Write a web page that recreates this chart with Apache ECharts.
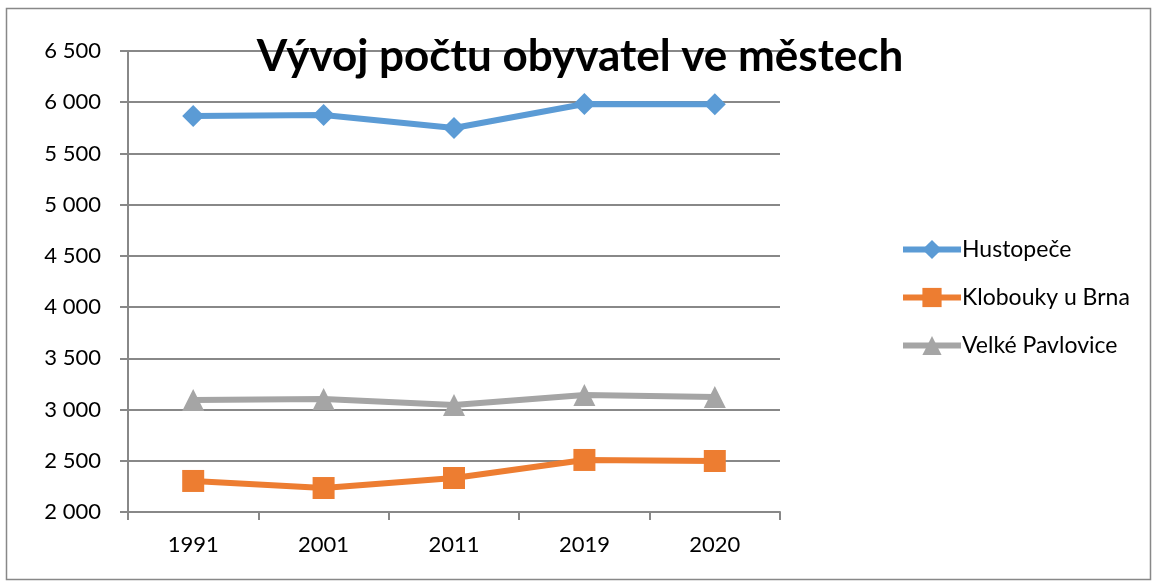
<!DOCTYPE html>
<html><head><meta charset="utf-8">
<script src="https://cdn.jsdelivr.net/npm/echarts@6/dist/echarts.min.js"></script>
<style>html,body{margin:0;padding:0;background:#fff}#c{width:1160px;height:585px}</style>
</head><body><div id="c"></div>
<script>
const categories = ['1991', '2001', '2011', '2019', '2020'];
const hustopece = [5866, 5876, 5749, 5982, 5980];
const klobouky = [2303, 2234, 2332, 2508, 2498];
const velkePavlovice = [3093, 3103, 3045, 3142, 3122];
const seriesNames = ['Hustopeče', 'Klobouky u Brna', 'Velké Pavlovice'];
const titleText = 'Vývoj počtu obyvatel ve městech';

const FONT = 'Lato, "Open Sans", sans-serif';
const chart = echarts.init(document.getElementById('c'), null, {renderer: 'canvas'});
function fmt(v) { return String(v).replace(/\B(?=(\d{3})+(?!\d))/g, ' '); }
function mk(name, data, color, symbol, size) {
  return {
    name, type: 'line', data, symbol, symbolSize: size,
    lineStyle: {color, width: 6}, itemStyle: {color},
    emphasis: {disabled: true}, animation: false
  };
}
chart.setOption({
  animation: false,
  title: {
    text: titleText, left: 'center', top: 30,
    textStyle: {fontFamily: FONT, fontWeight: 'bold', fontSize: 44, color: '#000'}
  },
  graphic: [{type: 'rect', shape: {x: 6.5, y: 8.5, width: 1144, height: 571},
    style: {fill: 'none', stroke: '#888', lineWidth: 1.5}, silent: true, z: -1}],
  grid: {left: 128, right: 380, top: 51, bottom: 73, containLabel: false},
  legend: {
    orient: 'vertical', left: 895, top: 233, itemGap: 25,
    itemWidth: 58, itemHeight: 24,
    lineStyle: {width: 6},
    textStyle: {fontFamily: FONT, fontSize: 23, color: '#000', padding: [0, 0, 0, -4]},
    data: seriesNames
  },
  xAxis: {
    type: 'category', data: categories, boundaryGap: true,
    axisLine: {lineStyle: {color: '#888', width: 2}},
    axisTick: {show: true, length: 8, lineStyle: {color: '#888', width: 2}},
    axisLabel: {fontFamily: FONT, fontSize: 22, color: '#000', margin: 22}
  },
  yAxis: {
    type: 'value', min: 2000, max: 6500, interval: 500,
    axisLine: {show: true, lineStyle: {color: '#888', width: 2}},
    axisTick: {show: true, length: 8, lineStyle: {color: '#888', width: 2}},
    splitLine: {lineStyle: {color: '#888', width: 2}},
    axisLabel: {fontFamily: FONT, fontSize: 22, color: '#000', margin: 27, formatter: fmt}
  },
  series: [
    mk(seriesNames[0], hustopece, '#5B9BD5', 'diamond', 22),
    mk(seriesNames[1], klobouky, '#ED7D31', 'rect', 22),
    mk(seriesNames[2], velkePavlovice, '#A5A5A5', 'triangle', 22)
  ]
});
</script></body></html>
